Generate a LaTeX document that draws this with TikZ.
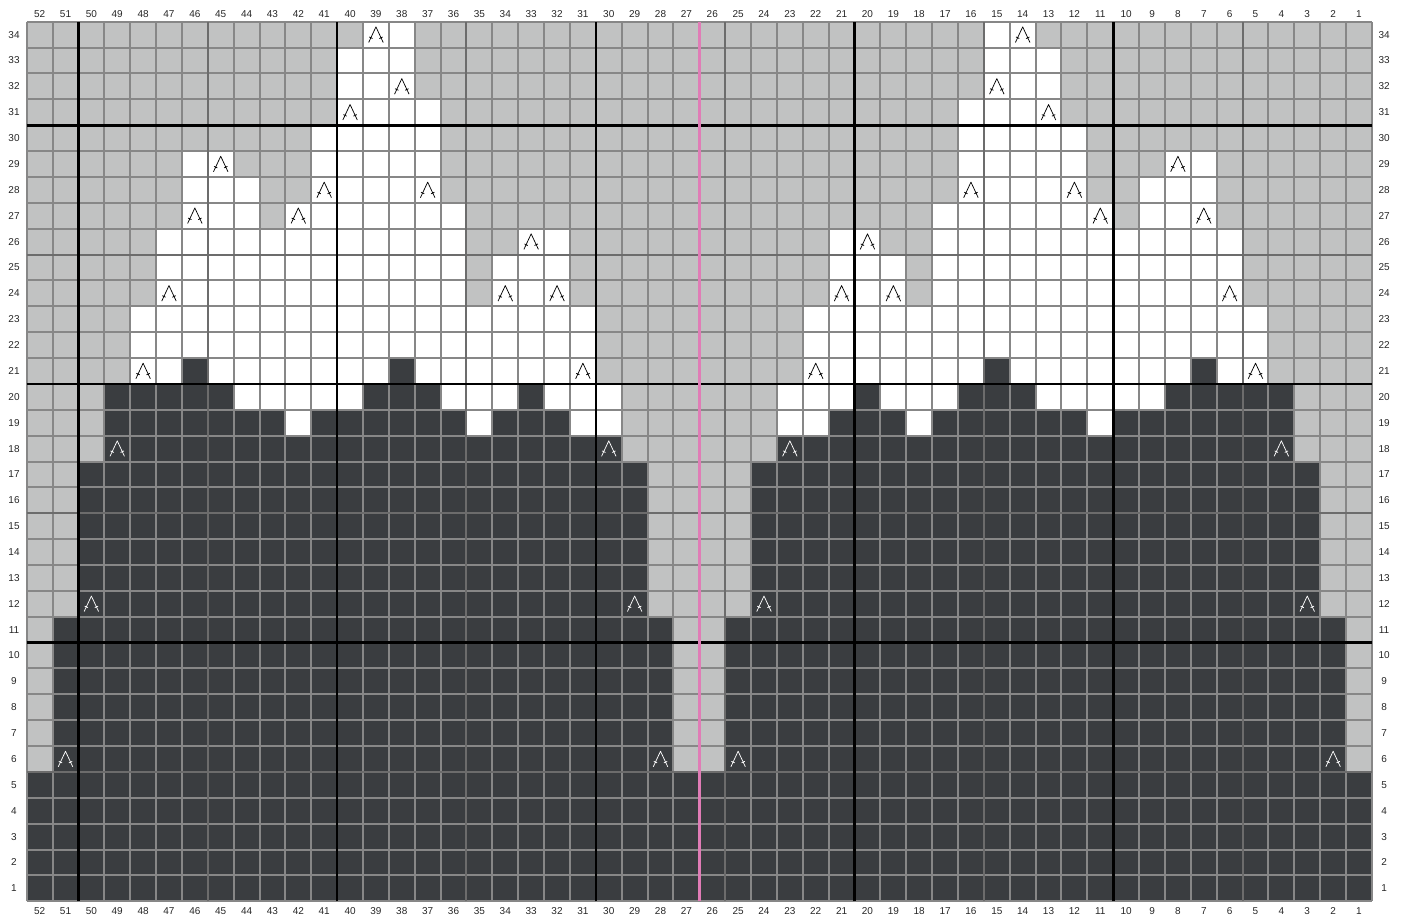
\documentclass[tikz,border=0pt]{standalone}
\usepackage{fontspec}
\setmainfont{Liberation Sans}
\usepackage{xcolor}
\usepackage{tikz}
\definecolor{ChartLight}{HTML}{C1C2C2}
\definecolor{ChartDark}{HTML}{3A3D40}
\definecolor{ChartGrid}{HTML}{878787}
\definecolor{ChartFive}{HTML}{6C6C6C}
\definecolor{ChartMid}{HTML}{E07CB6}

\begin{document}
\begin{tikzpicture}[
  x=1cm, y=1cm,
  lightcell/.style={fill=ChartLight},
  whitecell/.style={fill=white},
  darkcell/.style={fill=ChartDark},
  gridline/.style={draw=ChartGrid,line width=2.2pt},
  fiveline/.style={draw=ChartFive,line width=2.2pt},
  tenline/.style={draw=black,line width=2.9pt},
  midline/.style={draw=ChartMid,line width=3pt},
  decmark/.style={line width=0.8pt,line join=round},
  lbl/.style={inner sep=0pt,font=\fontsize{11}{13}\selectfont,text=black!85}
]
  \useasboundingbox (-1.032,-0.68) rectangle (53.24,34.84);

  \fill[lightcell] (0,0) rectangle (52,34);
  \foreach \xa/\ya/\xb/\yb in {
      10/18/11/19, 17/18/18/19, 21/18/23/19, 29/18/31/19, 34/18/35/19, 41/18/42/19,
      8/19/13/20, 16/19/19/20, 20/19/23/20, 29/19/32/20, 33/19/36/20, 39/19/44/20,
      4/20/22/23, 30/20/48/23,
      5/23/17/25, 18/23/21/25, 31/23/34/25, 35/23/47/25,
      5/25/17/26, 19/25/21/26, 31/25/33/26, 35/25/47/26,
      6/26/9/27, 10/26/17/27, 35/26/42/27, 43/26/46/27,
      6/27/9/28, 11/27/16/28, 36/27/41/28, 43/27/46/28,
      6/28/8/29, 11/28/16/29, 36/28/41/29, 44/28/46/29,
      11/29/16/30, 36/29/41/30,
      12/30/16/31, 36/30/40/31,
      12/31/15/33, 37/31/40/33,
      13/33/15/34, 37/33/39/34}
    \fill[whitecell] (\xa,\ya) rectangle (\xb,\yb);
  \foreach \xa/\ya/\xb/\yb in {
      0/0/52/5,
      1/5/25/11, 27/5/51/11,
      2/11/24/17, 28/11/50/17,
      3/17/23/18, 29/17/49/18,
      3/18/10/19, 11/18/17/19, 18/18/21/19, 31/18/34/19, 35/18/41/19, 42/18/49/19,
      3/19/8/20, 13/19/16/20, 19/19/20/20, 32/19/33/20, 36/19/39/20, 44/19/49/20,
      6/20/7/21, 14/20/15/21, 37/20/38/21, 45/20/46/21}
    \fill[darkcell] (\xa,\ya) rectangle (\xb,\yb);

  \draw[gridline] (0,0) grid (52,34);
  \foreach \x in {7,17,27,37,47}
    \draw[fiveline] (\x,0) -- (\x,34);
  \foreach \y in {5,15,25}
    \draw[fiveline] (0,\y) -- (52,\y);
  \foreach \x in {2,12,22,32,42}
    \draw[tenline] (\x,0) -- (\x,34);
  \foreach \y in {10,20,30}
    \draw[tenline] (0,\y) -- (52,\y);
  \draw[midline] (26,0) -- (26,34);

  \foreach \c/\r/\col in {
      39/34/black, 14/34/black, 38/32/black, 15/32/black, 40/31/black, 13/31/black,
      45/29/black, 8/29/black,
      41/28/black, 37/28/black, 16/28/black, 12/28/black,
      46/27/black, 42/27/black, 11/27/black, 7/27/black,
      33/26/black, 20/26/black,
      47/24/black, 34/24/black, 32/24/black, 21/24/black, 19/24/black, 6/24/black,
      48/21/black, 31/21/black, 22/21/black, 5/21/black,
      49/18/white, 30/18/white, 23/18/white, 4/18/white,
      50/12/white, 29/12/white, 24/12/white, 3/12/white,
      51/6/white, 28/6/white, 25/6/white, 2/6/white}
    \draw[decmark,draw=\col,shift={({52.5-\c},{\r-0.5})}]
      (-0.28,-0.3) -- (0,0.3) -- (0.28,-0.3)
      (-0.26,-0.09) -- (-0.13,-0.15) (0.26,-0.09) -- (0.13,-0.15);

  \foreach \c in {1,...,52} {
    \node[lbl] (top\c) at ({52.5-\c},34.31) {\c};
    \node[lbl] (bot\c) at ({52.5-\c},-0.37) {\c};
  }
  \foreach \r in {1,...,34} {
    \node[lbl] (left\r) at (-0.49,{\r-0.5}) {\r};
    \node[lbl] (right\r) at (52.47,{\r-0.5}) {\r};
  }
\end{tikzpicture}
\end{document}
